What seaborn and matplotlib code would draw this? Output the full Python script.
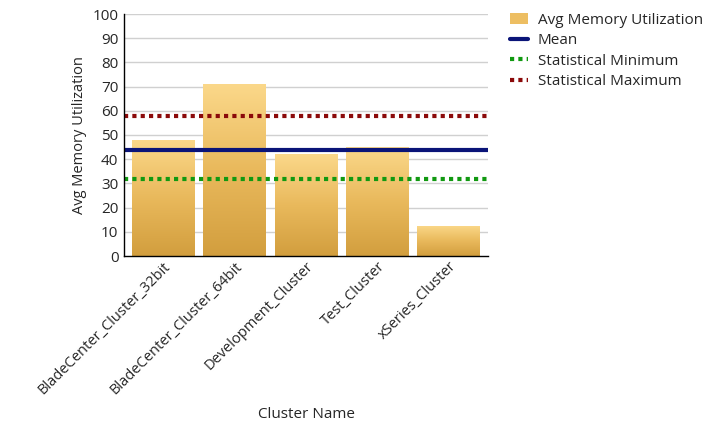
import numpy as np
import pandas as pd
import seaborn as sns
import matplotlib.pyplot as plt
from matplotlib.lines import Line2D
from matplotlib.patches import Patch
from matplotlib.colors import LinearSegmentedColormap

# --- Data ---
clusters = ['BladeCenter_Cluster_32bit', 'BladeCenter_Cluster_64bit',
            'Development_Cluster', 'Test_Cluster', 'xSeries_Cluster']
avg_memory = [48, 71, 42, 45, 12.5]
mean_value = 43.7
stat_min = 31.8
stat_max = 57.8

df = pd.DataFrame({'Cluster Name': clusters, 'Avg Memory Utilization': avg_memory})

# --- Plotting ---
sns.set_style('white')
plt.rcParams['font.family'] = ['Open Sans', 'DejaVu Sans']

fig = plt.figure(figsize=(7.18, 4.26), dpi=100)
ax = fig.add_axes([124 / 718, 1 - 256 / 426, 364 / 718, 242 / 426])

sns.barplot(data=df, x='Cluster Name', y='Avg Memory Utilization',
            color='#E3B158', width=0.88, ax=ax, zorder=2)

# horizontal grid lines kept behind the bars
for yv in range(10, 101, 10):
    ax.axhline(yv, color='#D0D0D0', lw=1, zorder=0.5)

# gradient fill for the bars (light top, darker gold bottom)
grad_cmap = LinearSegmentedColormap.from_list('gold', ['#D29E3E', '#E9B95C', '#FBD88A'])
for bar in ax.patches:
    x0, y0 = bar.get_x(), bar.get_y()
    w, h = bar.get_width(), bar.get_height()
    img = ax.imshow(np.linspace(0, 1, 256).reshape(-1, 1), cmap=grad_cmap,
                    extent=[x0, x0 + w, y0, y0 + h], origin='lower',
                    aspect='auto', interpolation='bilinear', zorder=3)
    img.set_clip_path(bar)
    bar.set_edgecolor('none')

ax.axhline(mean_value, color='#0A1478', lw=3, zorder=4)
ax.axhline(stat_min, color='#119911', lw=3, ls=(0, (1, 1)), zorder=4)
ax.axhline(stat_max, color='#8B0A0A', lw=3, ls=(0, (1, 1)), zorder=4)

ax.set_xlim(-0.55, 4.55)
ax.set_ylim(0, 100)
ax.set_yticks(range(0, 101, 10))
sns.despine(ax=ax, top=True, right=True)
for side in ['left', 'bottom']:
    ax.spines[side].set_color('black')
    ax.spines[side].set_linewidth(1)
    ax.spines[side].set_zorder(5)

ax.tick_params(axis='y', labelsize=11, length=0, pad=4)
ax.tick_params(axis='x', labelsize=10.5, length=0, pad=2)
plt.setp(ax.get_xticklabels(), rotation=45, ha='right', rotation_mode='anchor')
ax.set_ylabel('Avg Memory Utilization', fontsize=10.5, labelpad=4)
ax.set_xlabel('Cluster Name', fontsize=11, labelpad=7)

handles = [
    Patch(facecolor='#EDBE62', edgecolor='none'),
    Line2D([], [], color='#0A1478', lw=3),
    Line2D([], [], color='#119911', lw=3, ls=(0, (1, 1))),
    Line2D([], [], color='#8B0A0A', lw=3, ls=(0, (1, 1))),
]
labels = ['Avg Memory Utilization', 'Mean', 'Statistical Minimum', 'Statistical Maximum']
fig.legend(handles, labels, loc='upper left', bbox_to_anchor=(504 / 718, 1 - 7 / 426),
           frameon=False, fontsize=11, handlelength=1.2, handletextpad=0.6,
           labelspacing=0.35, borderaxespad=0)

plt.savefig('out.png', dpi=100)
